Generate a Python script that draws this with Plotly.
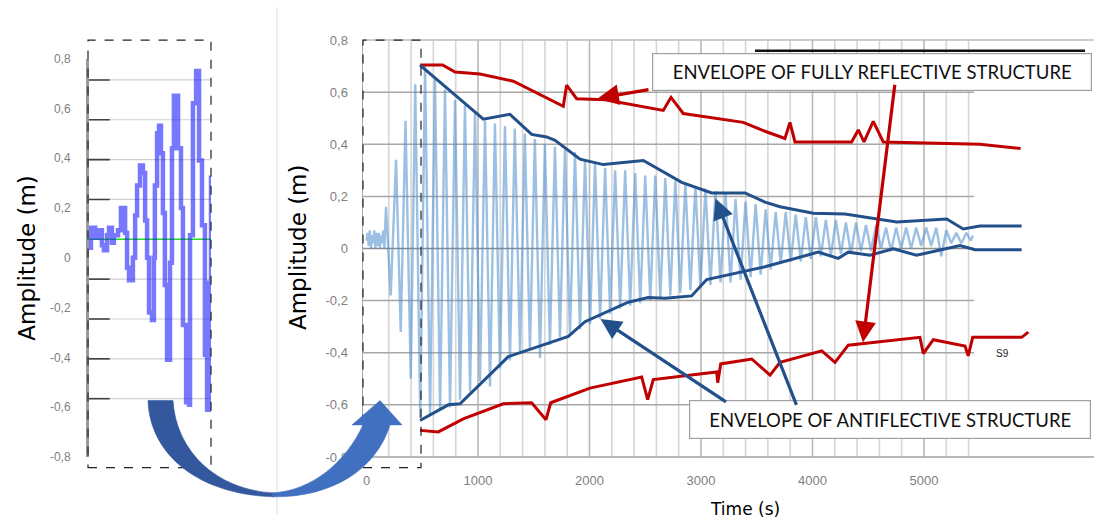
import plotly.graph_objects as go

W, H = 1094, 532

# ---------------- data ----------------
# main record: alternating crest / trough readings (time s, amplitude m)
wave_time = [0, 10, 20, 30, 40, 50, 60, 70, 80, 90, 100, 110, 120, 130, 140, 150, 160,
             175, 217, 265, 307, 350, 397, 437, 482, 525, 570, 614, 660, 704, 749, 794, 839,
             883, 929, 973, 1018, 1063, 1108, 1152, 1197, 1242, 1287, 1330, 1377, 1420, 1466,
             1510, 1556, 1600, 1645, 1690, 1735, 1780, 1825, 1870, 1915, 1960, 2005, 2050, 2095,
             2140, 2185, 2230, 2275, 2320, 2365, 2410, 2455, 2500, 2545, 2590, 2635, 2680, 2725,
             2770, 2815, 2860, 2905, 2950, 2995, 3040, 3085, 3130, 3175, 3220, 3265, 3310, 3355,
             3400, 3445, 3490, 3535, 3580, 3625, 3670, 3715, 3760, 3805, 3850, 3895, 3940, 3985,
             4030, 4075, 4120, 4165, 4210, 4255, 4300, 4345, 4390, 4435, 4480, 4525, 4570, 4615,
             4660, 4705, 4750, 4795, 4840, 4885, 4930, 4975, 5020, 5065, 5110, 5155, 5200, 5245,
             5290, 5335, 5380, 5420, 5440]
wave_amp = [0.03, 0.06, 0.01, 0.07, 0.00, 0.05, 0.02, 0.07, 0.00, 0.06, 0.01, 0.06, 0.00, 0.05, 0.02, 0.07, 0.00,
            0.16, -0.18, 0.34, -0.32, 0.49, -0.50, 0.63, -0.65, 0.70, -0.64, 0.65, -0.62, 0.61, -0.61, 0.57, -0.58,
            0.55, -0.55, 0.52, -0.51, 0.49, -0.53, 0.48, -0.46, 0.47, -0.43, 0.46, -0.40, 0.44, -0.39,
            0.42, -0.42, 0.40, -0.37, 0.39, -0.34, 0.38, -0.33, 0.37, -0.31, 0.34, -0.29, 0.33, -0.27,
            0.31, -0.25, 0.30, -0.23, 0.30, -0.22, 0.29, -0.21, 0.28, -0.20, 0.28, -0.19, 0.27, -0.18,
            0.26, -0.17, 0.25, -0.16, 0.24, -0.15, 0.23, -0.14, 0.22, -0.13, 0.21, -0.13, 0.19, -0.12,
            0.18, -0.11, 0.17, -0.10, 0.15, -0.08, 0.14, -0.06, 0.14, -0.05, 0.13, -0.05, 0.12, -0.04,
            0.12, -0.03, 0.11, -0.03, 0.11, -0.02, 0.10, -0.02, 0.10, -0.01, 0.09, -0.01, 0.09, 0.00,
            0.08, -0.01, 0.08, 0.00, 0.08, 0.00, 0.08, 0.01, 0.08, 0.01, 0.08, -0.03, 0.07, 0.02,
            0.06, 0.02, 0.06, 0.03, 0.05]

# envelopes
anti_upper_time = [480, 1048, 1287, 1481, 1616, 1691, 1915, 2124, 2483, 2827, 3096, 3395, 3574,
                   3709, 4007, 4291, 4755, 5204, 5352, 5502, 5876]
anti_upper_amp = [0.704, 0.496, 0.515, 0.438, 0.428, 0.415, 0.343, 0.322, 0.338, 0.254, 0.213, 0.213, 0.178,
                  0.160, 0.135, 0.132, 0.102, 0.113, 0.075, 0.086, 0.086]
anti_lower_time = [480, 734, 839, 1018, 1272, 1810, 1960, 2348, 2527, 2677, 2916, 3051, 3574, 4052,
                   4231, 4321, 4516, 4725, 4934, 5323, 5457, 5876]
anti_lower_amp = [-0.66, -0.60, -0.596, -0.522, -0.415, -0.337, -0.281, -0.206, -0.188, -0.191, -0.182,
                  -0.119, -0.07, -0.014, -0.038, -0.014, -0.026, -0.001, -0.026, 0.011, -0.005, -0.005]
refl_upper_time = [480, 683, 794, 1018, 1317, 1765, 1795, 1885, 2139, 2662, 2731, 2841, 3379, 3574,
                   3753, 3798, 3843, 4351, 4411, 4462, 4545, 4635, 5502, 5867]
refl_upper_amp = [0.704, 0.704, 0.677, 0.67, 0.642, 0.546, 0.627, 0.575, 0.571, 0.53, 0.58, 0.518, 0.484,
                  0.45, 0.422, 0.484, 0.409, 0.409, 0.455, 0.409, 0.488, 0.409, 0.40, 0.384]
refl_lower_time = [480, 644, 868, 1227, 1481, 1610, 1652, 2004, 2468, 2522, 2572, 2991, 3141, 3150,
                   3177, 3455, 3619, 3709, 4083, 4202, 4321, 4964, 4994, 5084, 5368, 5397, 5437, 5876, 5936]
refl_lower_amp = [-0.698, -0.704, -0.654, -0.596, -0.592, -0.657, -0.592, -0.536, -0.493, -0.58, -0.503,
                  -0.48, -0.474, -0.515, -0.443, -0.424, -0.486, -0.437, -0.393, -0.437, -0.371, -0.341,
                  -0.403, -0.35, -0.374, -0.412, -0.341, -0.341, -0.321]

# zoomed inset (first 500 s)
inset_time = [0, 8, 25, 41, 53, 61, 74, 82, 94, 102, 119, 131, 148, 156, 164, 180, 189, 197, 209, 221,
              230, 238, 246, 258, 266, 270, 279, 287, 295, 303, 311, 320, 332, 340, 348, 365, 377, 385,
              398, 410, 414, 426, 439, 451, 463, 475, 484, 492, 500]
inset_amp = [0.04, 0.12, 0.08, 0.11, 0.05, 0.03, 0.09, 0.12, 0.06, 0.09, 0.11, 0.20, 0.10, -0.04, -0.09,
             0.00, 0.17, 0.29, 0.37, 0.34, 0.15, 0.00, -0.22, -0.25, 0.00, 0.29, 0.50, 0.53, 0.42, 0.18,
             -0.11, -0.41, -0.02, 0.44, 0.65, 0.44, 0.20, -0.27, -0.58, -0.59, 0.09, 0.62, 0.75, 0.39,
             0.13, -0.39, -0.61, -0.10, 0.33]
inset_grid_levels = [0.714, 0.554, 0.394, 0.234, -0.086, -0.246, -0.406, -0.566]
inset_mean_level = 0.074

y_tick_vals = [-0.8, -0.6, -0.4, -0.2, 0, 0.2, 0.4, 0.6, 0.8]
y_tick_text = ["-0,8", "-0,6", "-0,4", "-0,2", "0", "0,2", "0,4", "0,6", "0,8"]
x_tick_vals = [0, 1000, 2000, 3000, 4000, 5000]
x_tick_text = ["0", "1000", "2000", "3000", "4000", "5000"]

label_reflective = "ENVELOPE OF FULLY REFLECTIVE STRUCTURE"
label_anti = "ENVELOPE OF ANTIFLECTIVE STRUCTURE"
series_label = "S9"

# ---------------- layout geometry (pixels) ----------------
def px(x):
    return x / W

def py(y):
    return 1 - y / H

MAIN_X0 = 363
T_AT_X0, T_AT_X1 = -31.4, 6525
GRID_END = 5450
INS_X0, INS_X1 = 89, 211

GRAY_TXT = "#7f7f7f"
RED = "#c00000"
NAVY = "#22508a"

fig = go.Figure()

fig.add_trace(go.Scatter(x=wave_time, y=wave_amp, mode="lines",
                         line=dict(color="rgba(75,140,205,0.55)", width=2.4),
                         xaxis="x", yaxis="y", hoverinfo="skip"))
for tx, ty, col in [(refl_upper_time, refl_upper_amp, RED), (refl_lower_time, refl_lower_amp, RED),
                    (anti_upper_time, anti_upper_amp, NAVY), (anti_lower_time, anti_lower_amp, NAVY)]:
    fig.add_trace(go.Scatter(x=tx, y=ty, mode="lines", line=dict(color=col, width=3),
                             xaxis="x", yaxis="y", hoverinfo="skip"))

fig.add_trace(go.Scatter(x=[inset_time[0], inset_time[-1]], y=[inset_mean_level] * 2, mode="lines",
                         line=dict(color="#22dd22", width=1.5), xaxis="x2", yaxis="y2", hoverinfo="skip"))
fig.add_trace(go.Scatter(x=inset_time, y=inset_amp, mode="lines", line_shape="hv",
                         line=dict(color="rgba(30,30,255,0.6)", width=4.5),
                         xaxis="x2", yaxis="y2", hoverinfo="skip"))

shapes = []
# main grid
for k in range(1, int(GRID_END // 200) + 1):
    t = k * 200
    shapes.append(dict(type="line", xref="x", yref="y", x0=t, x1=t, y0=-0.8, y1=0.8, layer="below",
                       line=dict(color="#b8b8b8" if t % 1000 == 0 else "#d6d6d6", width=1.6)))
for v in y_tick_vals[1:-1]:
    shapes.append(dict(type="line", xref="x", yref="y", x0=T_AT_X0, x1=GRID_END, y0=v, y1=v, layer="below",
                       line=dict(color="#8c8c8c" if v == 0 else "#a8a8a8", width=1.5)))
shapes.append(dict(type="line", xref="paper", yref="paper", x0=px(MAIN_X0), x1=1, y0=py(34), y1=py(34),
                   line=dict(color="#bdbdbd", width=1.5)))
shapes.append(dict(type="line", xref="paper", yref="paper", x0=px(MAIN_X0), x1=1, y0=py(463), y1=py(463),
                   line=dict(color="#a0a0a0", width=1.5)))
# inset grid
for v in inset_grid_levels:
    shapes.append(dict(type="line", xref="x2", yref="y2", x0=0, x1=500, y0=v, y1=v, layer="below",
                       line=dict(color="#cfcfcf", width=1.2)))
    shapes.append(dict(type="line", xref="x2", yref="y2", x0=0, x1=85, y0=v, y1=v, layer="below",
                       line=dict(color="#404040", width=1.6)))
# dashed boxes
for x0, x1 in [(88, 211), (363, 421)]:
    shapes.append(dict(type="rect", xref="paper", yref="paper", x0=px(x0), x1=px(x1), y0=py(474), y1=py(34),
                       line=dict(color="#222222", width=1.2, dash="dash")))
# separator
shapes.append(dict(type="line", xref="paper", yref="paper", x0=px(277), x1=px(277), y0=py(522), y1=1,
                   line=dict(color="#e3e3e3", width=1.2)))
# black bar above the upper label
shapes.append(dict(type="line", xref="paper", yref="paper", x0=px(755), x1=px(1085), y0=py(45), y1=py(45),
                   line=dict(color="#111111", width=2.5)))

# curved transfer arrow (crescent, tapering to a point at the bottom)
def path(pts):
    out = []
    for cmd, coords in pts:
        s = " ".join(f"{px(a):.5f},{py(b):.5f}" for a, b in coords)
        out.append(cmd + s)
    return " ".join(out) + " Z"

arrow_left = path([
    ("M", [(148, 405)]),
    ("C", [(150, 462), (200, 502), (274, 504)]),
    ("L", [(274, 500)]),
    ("C", [(215, 497), (176, 456), (173, 405)]),
])
arrow_right = path([
    ("M", [(272, 504)]),
    ("C", [(332, 505), (376, 476), (390, 430)]),
    ("L", [(402, 430)]),
    ("L", [(380, 405)]),
    ("L", [(352, 430)]),
    ("L", [(363, 430)]),
    ("C", [(346, 468), (312, 498), (272, 500)]),
])
shapes.append(dict(type="path", xref="paper", yref="paper", path=arrow_left,
                   fillcolor="#33589e", line=dict(color="#33589e", width=0.6)))
shapes.append(dict(type="path", xref="paper", yref="paper", path=arrow_right,
                   fillcolor="#4170c0", line=dict(color="#4170c0", width=0.6)))

annotations = []

def note(x, y, text, **kw):
    d = dict(x=px(x), y=py(y), xref="paper", yref="paper", text=text, showarrow=False,
             xanchor="center", yanchor="middle")
    d.update(kw)
    annotations.append(d)

# axis titles
note(27, 258, "Amplitude (m)", textangle=-90, font=dict(family="DejaVu Sans", size=23, color="#000000"))
note(298, 247, "Amplitude (m)", textangle=-90, font=dict(family="DejaVu Sans", size=23, color="#000000"))
note(745, 517, "Time (s)", font=dict(family="DejaVu Sans", size=17, color="#000000"))
note(1002, 357, series_label, font=dict(family="Liberation Sans", size=10, color="#222222"))
# label boxes
note(871.5, 66.5, label_reflective, width=436, height=34, bgcolor="white", bordercolor="#a0a0a0",
     borderwidth=1.2, borderpad=1, font=dict(family="Lato", size=18.5, color="#111111"))
note(890, 424.5, label_anti, width=398, height=35, bgcolor="white", bordercolor="#a0a0a0",
     borderwidth=1.2, borderpad=1, font=dict(family="Lato", size=18.5, color="#111111"))
# pointer arrows: (head x, head y, tail x, tail y, colour)
pointers = [(598, 94, 650, 85, RED), (863, 345, 895, 86, RED),
            (715.5, 197, 797, 405, NAVY), (600.5, 321, 727.5, 405, NAVY)]
for hx, hy, tx, ty, col in pointers:
    annotations.append(dict(x=px(hx), y=py(hy), xref="paper", yref="paper", ax=tx - hx, ay=ty - hy,
                            axref="pixel", ayref="pixel", text="", showarrow=True, arrowhead=2,
                            arrowsize=1.3, arrowwidth=3.2, arrowcolor=col, standoff=0))

tick_font = dict(family="Liberation Sans", size=13, color=GRAY_TXT)

fig.update_layout(
    width=W, height=H, margin=dict(l=0, r=0, t=0, b=0),
    paper_bgcolor="white", plot_bgcolor="rgba(0,0,0,0)",
    showlegend=False, hovermode=False,
    xaxis=dict(domain=[px(MAIN_X0), 1], range=[T_AT_X0, T_AT_X1], showgrid=False, zeroline=False,
               tickvals=x_tick_vals, ticktext=x_tick_text, ticks="outside", ticklen=11,
               tickcolor="rgba(0,0,0,0)", tickfont=tick_font, showline=False),
    yaxis=dict(domain=[py(463), py(34)], range=[-0.8, 0.8], showgrid=False, zeroline=False,
               tickvals=y_tick_vals, ticktext=y_tick_text, ticks="outside", ticklen=11,
               tickcolor="rgba(0,0,0,0)", tickfont=tick_font, showline=True, linecolor="#a6a6a6",
               linewidth=1.5),
    xaxis2=dict(domain=[px(INS_X0), px(INS_X1)], range=[0, 500], showgrid=False, zeroline=False,
                showticklabels=False, showline=False, anchor="y2"),
    yaxis2=dict(domain=[py(463), py(53)], range=[-0.8, 0.8], showgrid=False, zeroline=False,
                tickvals=y_tick_vals, ticktext=y_tick_text, ticks="outside", ticklen=13,
                tickcolor="rgba(0,0,0,0)", tickfont=dict(family="Liberation Sans", size=12, color=GRAY_TXT),
                showline=True, linecolor="#999999", linewidth=3, anchor="x2"),
    shapes=shapes, annotations=annotations,
)

fig.write_html("out.html", config={"displayModeBar": False, "staticPlot": True},
               post_script="document.body.style.margin='0';document.body.style.padding='0';"
                           "document.body.style.overflow='hidden';")
